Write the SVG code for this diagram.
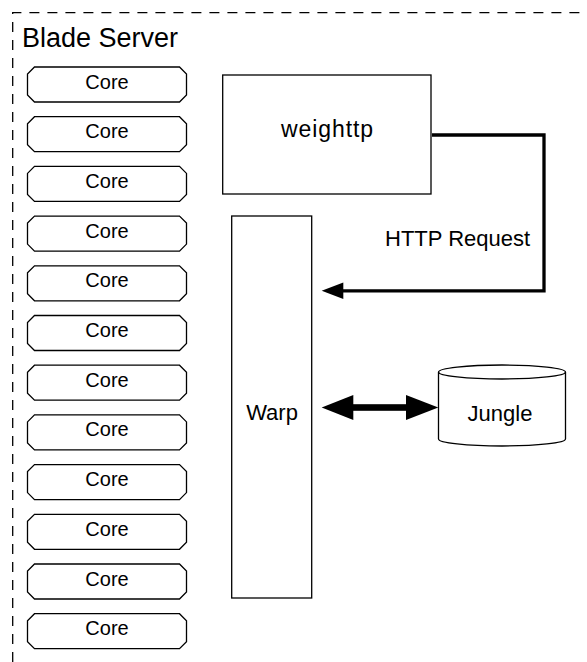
<svg xmlns="http://www.w3.org/2000/svg" width="587" height="662" viewBox="0 0 587 662">
<defs>
<style>
.t{font-family:"Liberation Sans",Arial,sans-serif;fill:#000}
.box{fill:#fff;stroke:#000;stroke-width:1.3}
.core text{font-size:20px;text-anchor:middle}
.lbl{font-size:22px;text-anchor:middle}
.conn{fill:none;stroke:#000;stroke-width:3.3}
</style>
<polygon id="coreShape" class="box" points="34.5,67 179.5,67 186.5,74 186.5,95 179.5,102 34.5,102 27.5,95 27.5,74"/>
</defs>
<rect width="587" height="662" fill="#fff"/>
<g id="blade-server">
<path d="M12.7,680 V12.7 H600" fill="none" stroke="#000" stroke-width="1.3" stroke-dasharray="10 8"/>
<text class="t" x="22" y="46.7" font-size="27">Blade Server</text>
</g>
<g id="cores" class="t">
<g id="core1" class="core" transform="translate(0,0)"><use href="#coreShape"/><text x="107" y="88.5">Core</text></g>
<g id="core2" class="core" transform="translate(0,49.7)"><use href="#coreShape"/><text x="107" y="88.5">Core</text></g>
<g id="core3" class="core" transform="translate(0,99.4)"><use href="#coreShape"/><text x="107" y="88.5">Core</text></g>
<g id="core4" class="core" transform="translate(0,149.1)"><use href="#coreShape"/><text x="107" y="88.5">Core</text></g>
<g id="core5" class="core" transform="translate(0,198.8)"><use href="#coreShape"/><text x="107" y="88.5">Core</text></g>
<g id="core6" class="core" transform="translate(0,248.5)"><use href="#coreShape"/><text x="107" y="88.5">Core</text></g>
<g id="core7" class="core" transform="translate(0,298.2)"><use href="#coreShape"/><text x="107" y="88.5">Core</text></g>
<g id="core8" class="core" transform="translate(0,347.9)"><use href="#coreShape"/><text x="107" y="88.5">Core</text></g>
<g id="core9" class="core" transform="translate(0,397.6)"><use href="#coreShape"/><text x="107" y="88.5">Core</text></g>
<g id="core10" class="core" transform="translate(0,447.3)"><use href="#coreShape"/><text x="107" y="88.5">Core</text></g>
<g id="core11" class="core" transform="translate(0,497)"><use href="#coreShape"/><text x="107" y="88.5">Core</text></g>
<g id="core12" class="core" transform="translate(0,546.7)"><use href="#coreShape"/><text x="107" y="88.5">Core</text></g>
</g>
<g id="weighttp" class="t">
<rect class="box" x="222.7" y="75" width="208.3" height="119"/>
<text x="327" y="137.3" font-size="23" text-anchor="middle" textLength="92" lengthAdjust="spacing">weighttp</text>
</g>
<g id="warp" class="t">
<rect class="box" x="231.7" y="216" width="80" height="382"/>
<text class="lbl" x="272" y="420">Warp</text>
</g>
<g id="jungle" class="t">
<path class="box" d="M438.5,372 A63.5,7 0 0 1 565.5,372 V439 A63.5,7 0 0 1 438.5,439 Z"/>
<path d="M438.5,372 A63.5,7 0 0 0 565.5,372" fill="none" stroke="#000" stroke-width="1.3"/>
<text class="lbl" x="500" y="421">Jungle</text>
</g>
<g id="connectors">
<path class="conn" d="M432,135 H544 V290.8 H340"/>
<polygon points="321.7,290.8 343.3,282.5 343.3,299.1" fill="#000"/>
<rect x="350" y="404.2" width="59" height="6.6" fill="#000"/>
<polygon points="321.7,407.5 353.3,395 353.3,420" fill="#000"/>
<polygon points="438.3,407.5 406,395 406,420" fill="#000"/>
<text class="t" x="385" y="245.7" font-size="22">HTTP Request</text>
</g>
</svg>
